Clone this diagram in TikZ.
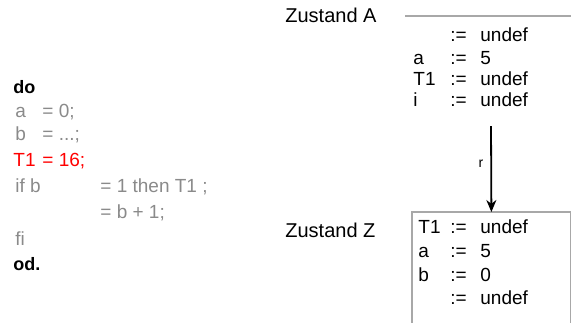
\documentclass[tikz,border=0pt]{standalone}
\usepackage{fontspec}
\setmainfont{Liberation Sans}
\usetikzlibrary{arrows.meta}
\definecolor{codegray}{HTML}{8A8A8A}
\definecolor{boxgray}{HTML}{A8A8A8}
\tikzset{
  code/.style={anchor=base west, inner sep=0pt, text=codegray, font=\fontsize{9.5}{11}\selectfont},
  hot/.style={code, text=red},
  kw/.style={code, text=black, font=\fontsize{9}{11}\selectfont\bfseries},
  title/.style={anchor=base west, inner sep=0pt, font=\fontsize{10}{12}\selectfont},
  cell/.style={anchor=base west, inner sep=0pt, font=\fontsize{9.5}{11}\selectfont},
  frame/.style={draw=boxgray, line width=0.8pt},
  flow/.style={-{Stealth[length=6pt,width=5pt]}, line width=0.9pt}
}
\begin{document}
\begin{tikzpicture}[x=0.5pt,y=-0.5pt]
\useasboundingbox (0,0) rectangle (571,322);

% program text
\node[kw]   (p0) at (13,93)  {do};
\node[code] (p1) at (15,117) {a};
\node[code] (p1e) at (42,117) {= 0;};
\node[code] (p2) at (15,140) {b};
\node[code] (p2e) at (42,140) {= ...;};
\node[hot]  (p3) at (13,166) {T1};
\node[hot]  (p3e) at (42,166) {= 16;};
\node[code] (p4) at (15,192) {if b};
\node[code] (p4e) at (100,192) {= 1 then T1 ;};
\node[code] (p5e) at (100,218) {= b + 1;};
\node[code] (p6) at (15,245) {fi};
\node[kw]   (p7) at (13,270) {od.};

% state A
\node[title] (za) at (285,22) {Zustand A};
\coordinate (ta) at (405,16);
\coordinate (tb) at (571,16);
\draw[boxgray, line width=0.8pt] (ta) -- (tb);
\node[cell] (a1v) at (450,41) {:=};
\node[cell] (a1w) at (480,41) {undef};
\node[cell] (a2)  at (413,64) {a};
\node[cell] (a2v) at (450,64) {:=};
\node[cell] (a2w) at (480,64) {5};
\node[cell] (a3)  at (413,85) {T1};
\node[cell] (a3v) at (450,85) {:=};
\node[cell] (a3w) at (480,85) {undef};
\node[cell] (a4)  at (413,106) {i};
\node[cell] (a4v) at (450,106) {:=};
\node[cell] (a4w) at (480,106) {undef};

% state Z: an open frame whose sides run off the lower edge
\node[title] (zz) at (285,237) {Zustand Z};
\node[anchor=north west, minimum width=79pt, minimum height=70pt, inner sep=0pt] (stateZ) at (412,212) {};
\draw[frame] (stateZ.south west) -- (stateZ.north west) -- (stateZ.north east) -- (stateZ.south east);
\node[cell] (z1)  at (418,233) {T1};
\node[cell] (z1v) at (450,233) {:=};
\node[cell] (z1w) at (480,233) {undef};
\node[cell] (z2)  at (418,257) {a};
\node[cell] (z2v) at (450,257) {:=};
\node[cell] (z2w) at (480,257) {5};
\node[cell] (z3)  at (418,281) {b};
\node[cell] (z3v) at (450,281) {:=};
\node[cell] (z3w) at (480,281) {0};
\node[cell] (z4v) at (450,304) {:=};
\node[cell] (z4w) at (480,304) {undef};

% transition
\coordinate (src) at (491,126);
\draw[flow] (src) -- (stateZ.north);
\node[cell, anchor=center, font=\fontsize{7}{8}\selectfont] (lbl) at (481,164) {r};
\end{tikzpicture}
\end{document}
